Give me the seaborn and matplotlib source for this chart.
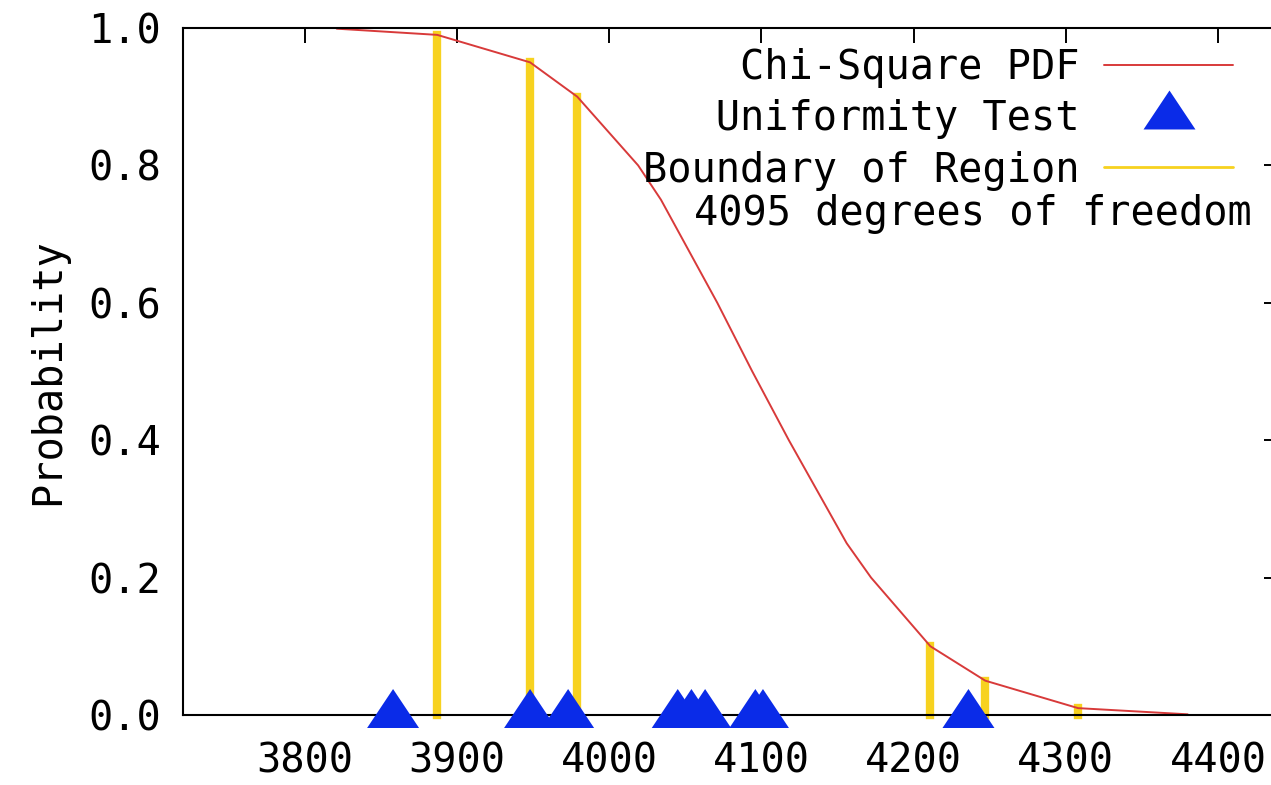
import matplotlib
matplotlib.use("Agg")
import matplotlib.pyplot as plt
import seaborn as sns
from matplotlib.lines import Line2D
from matplotlib.path import Path
from matplotlib.ticker import FormatStrFormatter

# ---- data ----
curve_x = [3821, 3887, 3948, 3979, 4019, 4034, 4071, 4094, 4118, 4156, 4172, 4211, 4247, 4308, 4380]
curve_p = [0.999, 0.99, 0.95, 0.90, 0.80, 0.75, 0.60, 0.50, 0.40, 0.25, 0.20, 0.10, 0.05, 0.01, 0.001]

boundary_x = [3887, 3948, 3979, 4211, 4247, 4308]
boundary_p = [0.99, 0.95, 0.90, 0.10, 0.05, 0.01]

test_x = [3858, 3948, 3973, 4045, 4054, 4063, 4096, 4101, 4236]
test_y = [0.0, 0.0, 0.0, 0.0, 0.0, 0.0, 0.0, 0.0, 0.0]

x_ticks = [3800, 3900, 4000, 4100, 4200, 4300, 4400]
y_ticks = [0.0, 0.2, 0.4, 0.6, 0.8, 1.0]

labels = ["Chi-Square PDF", "Uniformity Test", "Boundary of Region"]
note = "4095 degrees of freedom"

RED = "#d83a3a"
BLUE = "#0a2be8"
GOLD = "#f7d21f"

sns.set_style("white")
plt.rcParams["font.family"] = ["DejaVu Sans Mono"]
plt.rcParams["font.size"] = 29
plt.rcParams["text.color"] = "black"
plt.rcParams["axes.labelcolor"] = "black"

W, H = 1271, 785
fig = plt.figure(figsize=(W / 100, H / 100), dpi=100)
ax = fig.add_axes([183 / W, 70 / H, (1279 - 183) / W, 687 / H])

tri = Path([(0, 1), (-1, -0.5), (1, -0.5), (0, 1)],
           [Path.MOVETO, Path.LINETO, Path.LINETO, Path.CLOSEPOLY])

ax.vlines(boundary_x, 0, boundary_p, colors=GOLD, linewidth=6,
          capstyle="projecting", zorder=2, clip_on=False)
sns.lineplot(x=curve_x, y=curve_p, ax=ax, color=RED, linewidth=1.4,
             sort=False, estimator=None, zorder=3)
sns.scatterplot(x=test_x, y=test_y, ax=ax, marker=tri, s=1400, color=BLUE,
                edgecolor="none", linewidth=0, zorder=6, clip_on=False)

ax.set_xlim(3720, 4440)
ax.set_ylim(0, 1)
ax.set_xticks(x_ticks)
ax.set_yticks(y_ticks)
ax.yaxis.set_major_formatter(FormatStrFormatter("%.1f"))
ax.tick_params(axis="both", direction="in", length=11, width=1.4,
               colors="black", top=True, right=True, labelsize=29)
ax.tick_params(axis="x", pad=19)
ax.tick_params(axis="y", pad=16)
for s in ax.spines.values():
    s.set_linewidth(1.5)
    s.set_color("black")
    s.set_zorder(4)
ax.set_xlabel("")
ax.set_ylabel("Probability", labelpad=14, color="black")

maxlen = max(len(l) for l in labels)
padded = [" " * (maxlen - len(l)) + l for l in labels]
handles = [
    Line2D([], [], color=RED, linewidth=1.4),
    Line2D([], [], color=BLUE, marker=tri, markersize=37.4, linestyle="none",
           markeredgewidth=0),
    Line2D([], [], color=GOLD, linewidth=2),
]
leg = ax.legend(handles, padded, loc="upper right",
                bbox_to_anchor=(1233 / W, 1 - 48 / H),
                bbox_transform=fig.transFigure, frameon=False,
                markerfirst=False, handlelength=3.2, handletextpad=0.6,
                labelspacing=0.28, borderpad=0, borderaxespad=0, fontsize=29)
for t in leg.get_texts():
    t.set_color("black")
fig.text(1252 / W, 1 - 214 / H, note, ha="right", va="center", fontsize=29,
         color="black")

fig.savefig("out.png", dpi=100)
